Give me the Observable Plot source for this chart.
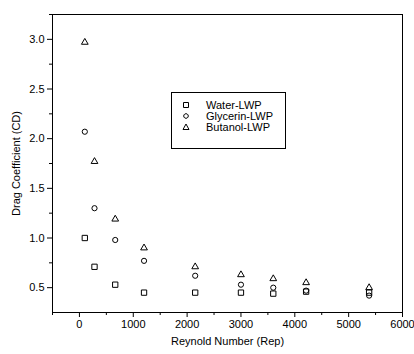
<!DOCTYPE html>
<html>
<head>
<meta charset="utf-8">
<script src="https://cdn.jsdelivr.net/npm/d3@7"></script>
<script src="https://cdn.jsdelivr.net/npm/@observablehq/plot@0.6"></script>
<style>
  body { margin: 0; background: #fff; }
  #wrap { position: relative; width: 414px; height: 354px; font-family: "Liberation Sans", Arial, sans-serif; }
  #legend { position: absolute; left: 171px; top: 92px; width: 115px; height: 57px; border: 1px solid #000; box-sizing: border-box; background: #fff; font-size: 11px; }
  #legend .row { position: absolute; left: 0; height: 12px; line-height: 12px; }
  #legend svg { position: absolute; left: 8px; top: 0; }
  #legend span { position: absolute; left: 34px; white-space: nowrap; }
</style>
</head>
<body>
<div id="wrap"></div>
<script>
const reynolds = [100, 280, 665, 1200, 2150, 3000, 3600, 4210, 5380];
const water    = [1.00, 0.71, 0.53, 0.45, 0.45, 0.45, 0.44, 0.46, 0.45];
const glycerin = [2.07, 1.30, 0.98, 0.77, 0.62, 0.53, 0.50, 0.47, 0.42];
const butanol  = [2.97, 1.77, 1.19, 0.90, 0.71, 0.63, 0.59, 0.55, 0.50];
const seriesNames = ["Water-LWP", "Glycerin-LWP", "Butanol-LWP"];
const seriesSymbols = ["square", "circle", "triangle"];
const xMajor = [0, 1000, 2000, 3000, 4000, 5000, 6000];
const xMinor = [-500, 500, 1500, 2500, 3500, 4500, 5500];
const yMajor = [0.5, 1.0, 1.5, 2.0, 2.5, 3.0];
const yMinor = [0.75, 1.25, 1.75, 2.25, 2.75, 3.25];

const toRows = (vals) => reynolds.map((x, i) => ({x, y: vals[i]}));

const chart = Plot.plot({
  width: 414,
  height: 354,
  marginLeft: 52,
  marginRight: 12,
  marginTop: 14,
  marginBottom: 42,
  style: {fontFamily: "'Liberation Sans', Arial, sans-serif", fontSize: "11px", color: "#000", background: "#fff"},
  x: {domain: [-500, 6000]},
  y: {domain: [0.25, 3.25]},
  marks: [
    Plot.frame({stroke: "#000", strokeWidth: 1}),
    Plot.axisX({ticks: xMajor, tickSize: 5, tickPadding: 3, tickFormat: d => String(d), label: "Reynold Number (Rep)", labelAnchor: "center", labelArrow: "none", labelOffset: 32, fontSize: 11}),
    Plot.axisX({ticks: xMinor, tickSize: 3, tickFormat: () => "", label: null}),
    Plot.axisY({ticks: yMajor, tickSize: 5, tickPadding: 3, tickFormat: d3.format(".1f"), label: "Drag Coefficient (CD)", labelAnchor: "center", labelArrow: "none", labelOffset: 40, fontSize: 11}),
    Plot.axisY({ticks: yMinor, tickSize: 3, tickFormat: () => "", label: null}),
    Plot.dot(toRows(water), {x: "x", y: "y", symbol: "square", r: 3.0, stroke: "#000", strokeWidth: 1, fill: "none"}),
    Plot.dot(toRows(glycerin), {x: "x", y: "y", symbol: "circle", r: 2.6, stroke: "#000", strokeWidth: 1, fill: "none"}),
    Plot.dot(toRows(butanol), {x: "x", y: "y", symbol: "triangle", r: 2.5, stroke: "#000", strokeWidth: 1, fill: "none"})
  ]
});
const wrap = document.getElementById("wrap");
wrap.appendChild(chart);

// legend
const leg = document.createElement("div");
leg.id = "legend";
const symPaths = {
  square: "M3.5,3.5h5v5h-5z",
  circle: "M6,3.7a2.3,2.3 0 1,0 0.001,0z",
  triangle: "M6,3L9,8.5L3,8.5z"
};
seriesNames.forEach((name, i) => {
  const row = document.createElement("div");
  row.className = "row";
  row.style.top = (6 + i * 11) + "px";
  row.innerHTML = `<svg width="12" height="12"><path d="${symPaths[seriesSymbols[i]]}" fill="none" stroke="#000" stroke-width="1"/></svg><span>${name}</span>`;
  leg.appendChild(row);
});
wrap.appendChild(leg);
</script>
</body>
</html>
